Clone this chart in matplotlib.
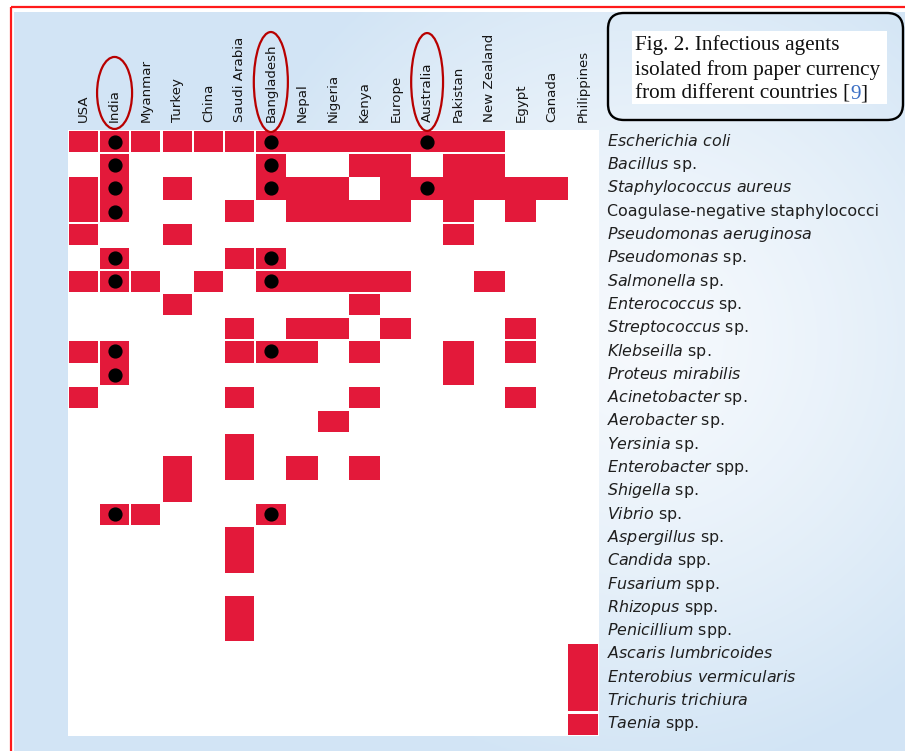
import numpy as np
import matplotlib.pyplot as plt
from matplotlib.patches import Rectangle, Ellipse, FancyBboxPatch

plt.rcParams['font.family'] = ['DejaVu Sans']
plt.rcParams['mathtext.fontset'] = 'custom'
plt.rcParams['mathtext.rm'] = 'DejaVu Sans'
plt.rcParams['mathtext.it'] = 'DejaVu Sans:italic'

# countries (columns) and organisms (rows)
countries = ["USA", "India", "Myanmar", "Turkey", "China", "Saudi Arabia",
             "Bangladesh", "Nepal", "Nigeria", "Kenya", "Europe", "Australia",
             "Pakistan", "New Zealand", "Egypt", "Canada", "Philippines"]

organisms = ["Escherichia coli", "Bacillus sp.", "Staphylococcus aureus",
             "Coagulase-negative staphylococci", "Pseudomonas aeruginosa",
             "Pseudomonas sp.", "Salmonella sp.", "Enterococcus sp.",
             "Streptococcus sp.", "Klebseilla sp.", "Proteus mirabilis",
             "Acinetobacter sp.", "Aerobacter sp.", "Yersinia sp.",
             "Enterobacter spp.", "Shigella sp.", "Vibrio sp.",
             "Aspergillus sp.", "Candida spp.", "Fusarium spp.",
             "Rhizopus spp.", "Penicillium spp.", "Ascaris lumbricoides",
             "Enterobius vermicularis", "Trichuris trichiura", "Taenia spp."]

# countries where each organism was isolated (same order as organisms)
found_in = [
    ["USA", "India", "Myanmar", "Turkey", "China", "Saudi Arabia", "Bangladesh",
     "Nepal", "Nigeria", "Kenya", "Europe", "Australia", "Pakistan", "New Zealand"],
    ["India", "Bangladesh", "Kenya", "Europe", "Pakistan", "New Zealand"],
    ["USA", "India", "Turkey", "Bangladesh", "Nepal", "Nigeria", "Europe",
     "Australia", "Pakistan", "New Zealand", "Egypt", "Canada"],
    ["USA", "India", "Saudi Arabia", "Nepal", "Nigeria", "Kenya", "Europe",
     "Pakistan", "Egypt"],
    ["USA", "Turkey", "Pakistan"],
    ["India", "Saudi Arabia", "Bangladesh"],
    ["USA", "India", "Myanmar", "China", "Bangladesh", "Nepal", "Nigeria",
     "Kenya", "Europe", "New Zealand"],
    ["Turkey", "Kenya"],
    ["Saudi Arabia", "Nepal", "Nigeria", "Europe", "Egypt"],
    ["USA", "India", "Saudi Arabia", "Bangladesh", "Nepal", "Kenya",
     "Pakistan", "Egypt"],
    ["India", "Pakistan"],
    ["USA", "Saudi Arabia", "Kenya", "Egypt"],
    ["Nigeria"],
    ["Saudi Arabia"],
    ["Turkey", "Saudi Arabia", "Nepal", "Kenya"],
    ["Turkey"],
    ["India", "Myanmar", "Bangladesh"],
    ["Saudi Arabia"],
    ["Saudi Arabia"],
    [],
    ["Saudi Arabia"],
    ["Saudi Arabia"],
    ["Philippines"],
    ["Philippines"],
    ["Philippines"],
    ["Philippines"],
]

# highlighted countries and the organisms marked with a dot
highlighted = ["India", "Bangladesh", "Australia"]
dots_india = ["Escherichia coli", "Bacillus sp.", "Staphylococcus aureus",
              "Coagulase-negative staphylococci", "Pseudomonas sp.",
              "Salmonella sp.", "Klebseilla sp.", "Proteus mirabilis", "Vibrio sp."]
dots_bangladesh = ["Escherichia coli", "Bacillus sp.", "Staphylococcus aureus",
                   "Pseudomonas sp.", "Salmonella sp.", "Klebseilla sp.", "Vibrio sp."]
dots_australia = ["Escherichia coli", "Staphylococcus aureus"]


def label_text(name):
    'italic genus/species, upright sp./spp.'
    if name.startswith("Coagulase"):
        return name
    for suf in (" spp.", " sp."):
        if name.endswith(suf):
            return r"$\mathit{%s}$%s" % (name[:-len(suf)].replace(" ", r"\ "), suf)
    return r"$\mathit{%s}$" % name.replace(" ", r"\ ")


W, H = 905, 751
RED = '#e3193a'
fig = plt.figure(figsize=(W / 100, H / 100), dpi=100)
fig.patch.set_facecolor('white')

# background layer in pixel coordinates
bg = fig.add_axes([0, 0, 1, 1])
ys, xs = np.mgrid[12:H:2, 14:W:2]
r = np.hypot((xs - 640) / 430.0, (ys - 340) / 430.0)
t = np.clip(r, 0, 1) ** 1.3
c0 = np.array([0.965, 0.978, 0.992])
c1 = np.array([0.827, 0.898, 0.961])
img = c0 * (1 - t[..., None]) + c1 * t[..., None]
bg.imshow(img, extent=(14, W, H, 12), interpolation='bilinear', aspect='auto')
bg.plot([11, 11], [7, H + 5], color='#ff1a1a', lw=1.6, solid_capstyle='butt')
bg.plot([11, W + 5], [7, 7], color='#ff1a1a', lw=1.6, solid_capstyle='butt')
bg.set_xlim(0, W)
bg.set_ylim(H, 0)
bg.axis('off')

# caption box
bg.add_patch(FancyBboxPatch((608, 13), 295, 107,
                            boxstyle="round,pad=0,rounding_size=16",
                            fc='none', ec='black', lw=1.7))
bg.add_patch(Rectangle((631.5, 30.5), 255, 73, fc='white', ec='none'))
serif = dict(family='Liberation Serif', fontsize=15.3, color='#111111', va='baseline')
bg.text(635, 50, "Fig. 2. Infectious agents", **serif)
bg.text(635, 74.5, "isolated from paper currency", **serif)
t1 = bg.text(635, 99, "from different countries [", **serif)
fig.canvas.draw()
x1 = t1.get_window_extent().x1
t2 = bg.text(x1, 99, "9", **dict(serif, color='#3b6fc4'))
fig.canvas.draw()
x2 = t2.get_window_extent().x1
bg.text(x2, 99, "]", **serif)

# grid
GX0, GX1, GY0, GY1 = 67.7, 599.0, 130.0, 735.8
ax = fig.add_axes([GX0 / W, 1 - GY1 / H, (GX1 - GX0) / W, (GY1 - GY0) / H])
ax.set_facecolor('white')
ax.set_xlim(0, len(countries))
ax.set_ylim(len(organisms), 0)
ax.set_xticks([])
ax.set_yticks([])
for s in ax.spines.values():
    s.set_visible(False)

# blocks that merge visually; gaps only between groups
col_starts, col_ends = {0, 1, 2, 3, 4, 5, 6}, {0, 1, 2, 3, 4, 5, 16}
row_starts = {0, 1, 4, 5, 6, 7, 8, 9, 11, 12, 13, 16, 17, 22, 25}
row_ends = {0, 3, 4, 5, 6, 7, 8, 10, 11, 12, 15, 16, 21, 24, 25}
gx, gy = 0.038, 0.05

for i, org in enumerate(organisms):
    for c in found_in[i]:
        j = countries.index(c)
        x0 = j + (gx if j in col_starts else 0)
        x1_ = j + 1 - (gx if j in col_ends else 0)
        y0 = i + (gy if i in row_starts else 0)
        y1 = i + 1 - (gy if i in row_ends else 0)
        ax.add_patch(Rectangle((x0, y0), x1_ - x0, y1 - y0, fc=RED, ec='none'))

# dots
for c, lst in zip(highlighted, [dots_india, dots_bangladesh, dots_australia]):
    j = countries.index(c)
    ax.scatter([j + 0.5] * len(lst), [organisms.index(o) + 0.5 for o in lst],
               s=85, color='black', zorder=5, clip_on=False)

# column headers
for j, c in enumerate(countries):
    ax.text(j + 0.5, -0.36, c, rotation=90, ha='center', va='bottom',
            fontsize=9.6, color='#141414', clip_on=False)

# ellipses around highlighted headers
ell = {"India": (-1.59, 3.09, 1.12), "Bangladesh": (-2.06, 4.29, 1.09),
       "Australia": (-2.06, 4.2, 1.02)}
for c in highlighted:
    cy, h, w = ell[c]
    ax.add_patch(Ellipse((countries.index(c) + 0.5, cy), w, h, fill=False,
                         ec='#b80000', lw=1.6, clip_on=False, zorder=6))

# row labels
for i, org in enumerate(organisms):
    ax.text(17.26, i + 0.68, label_text(org), ha='left', va='baseline',
            fontsize=11.4, color='#1f1f1f', clip_on=False)

fig.savefig('out.png', dpi=100)
